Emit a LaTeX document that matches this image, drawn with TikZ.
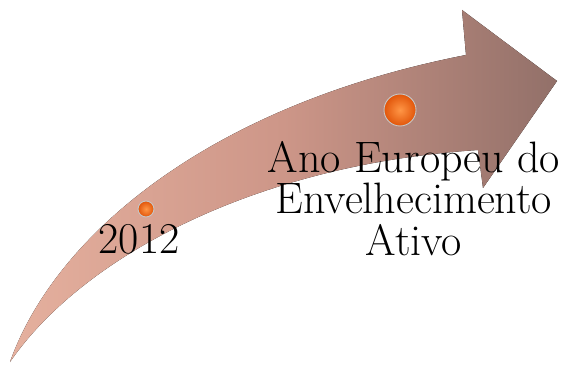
\documentclass[tikz,border=0pt]{standalone}
\usepackage{xcolor}
\usepackage{tikz}
\usetikzlibrary{calc, positioning}

\definecolor{arrowtail}{RGB}{229,176,158}
\definecolor{arrowmid}{RGB}{205,150,136}
\definecolor{arrowhead}{RGB}{146,112,105}
\definecolor{dotlight}{RGB}{255,150,70}
\definecolor{dotdark}{RGB}{225,85,10}

\tikzset{
    dotmark/.style={circle, draw=gray!45, line width=0.9pt, inner sep=0pt,
        inner color=dotlight, outer color=dotdark},
    yearlabel/.style={inner sep=0pt, font=\fontsize{44}{41.5}\selectfont},
}

\begin{document}
\begin{tikzpicture}[x=1pt, y=-1pt]
    \useasboundingbox (0,0) rectangle (567,366);

    % 1. Mũi tên cong
    \fill[left color=arrowtail, right color=arrowhead, middle color=arrowmid]
        (10,362) .. controls (55,235) and (210,105) .. (466,55)
        -- (462,10) -- (557,81) -- (483,188) -- (478,150)
        .. controls (250,165) and (80,260) .. cycle;

    % 2. Các mốc
    \node[dotmark, minimum size=16pt] (dot2012) at (146,209) {};
    \node[dotmark, minimum size=32pt] (dotano) at (400,110) {};

    % 3. Nhãn
    \node[yearlabel, anchor=base] (lbl2012) at (139,253) {2012};
    \node[yearlabel, anchor=north, align=center] (lblano) at (414,141)
        {Ano Europeu do\\Envelhecimento\\Ativo};
\end{tikzpicture}
\end{document}
